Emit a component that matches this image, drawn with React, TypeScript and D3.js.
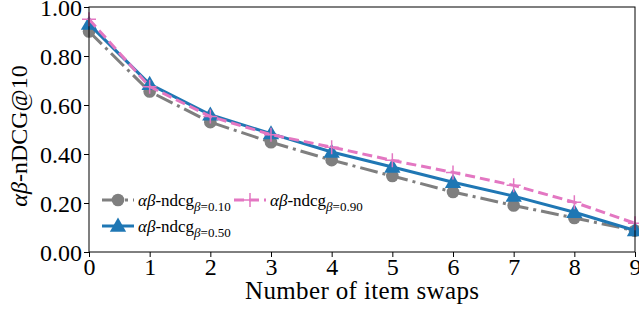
import React, { useRef, useEffect } from 'react';
import * as d3 from 'd3';

// item swaps on x axis
const swaps = [0, 1, 2, 3, 4, 5, 6, 7, 8, 9];
// alpha-beta nDCG@10 per beta
const beta010 = [0.9, 0.655, 0.53, 0.448, 0.375, 0.31, 0.245, 0.19, 0.139, 0.087];
const beta050 = [0.93, 0.685, 0.56, 0.483, 0.408, 0.347, 0.285, 0.228, 0.162, 0.088];
const beta090 = [0.95, 0.675, 0.553, 0.479, 0.428, 0.374, 0.325, 0.272, 0.203, 0.117];
const yTicks = [0, 0.2, 0.4, 0.6, 0.8, 1.0];

const series = [
  { label: '0.10', values: beta010, color: '#7f7f7f', dash: '18,5,3,5', marker: 'circle' },
  { label: '0.50', values: beta050, color: '#1f77b4', dash: null, marker: 'triangle' },
  { label: '0.90', values: beta090, color: '#e377c2', dash: '10,5', marker: 'plus' },
];

const FONT = '"Liberation Serif", "DejaVu Serif", serif';

const drawMarker = (g, type, x, y, color) => {
  if (type === 'circle') {
    g.append('circle').attr('cx', x).attr('cy', y).attr('r', 6.3).attr('fill', color);
  } else if (type === 'triangle') {
    g.append('path')
      .attr('d', d3.symbol().type(d3.symbolTriangle).size(115)())
      .attr('transform', `translate(${x},${y + 1})`)
      .attr('fill', color);
  } else {
    g.append('path')
      .attr('d', `M${x - 7},${y}H${x + 7}M${x},${y - 7}V${y + 7}`)
      .attr('stroke', color)
      .attr('stroke-width', 1.5)
      .attr('fill', 'none');
  }
};

const Chart = ({ width = 639, height = 318 }) => {
  const svgRef = useRef();

  useEffect(() => {
    d3.select(svgRef.current).selectAll('*').remove();

    const margin = { top: 7, right: 4, bottom: 66, left: 89 };
    const innerWidth = width - margin.left - margin.right;
    const innerHeight = height - margin.top - margin.bottom;

    const svg = d3.select(svgRef.current).attr('width', width).attr('height', height);
    const chart = svg.append('g').attr('transform', `translate(${margin.left},${margin.top})`);

    const xScale = d3.scaleLinear().domain([0, 9]).range([0, innerWidth]);
    const yScale = d3.scaleLinear().domain([0, 1]).range([innerHeight, 0]);

    // axes
    const xAxis = chart
      .append('g')
      .attr('transform', `translate(0,${innerHeight})`)
      .call(d3.axisBottom(xScale).tickValues(swaps).tickFormat(d3.format('d')).tickSize(5).tickPadding(1));
    const yAxis = chart
      .append('g')
      .call(d3.axisLeft(yScale).tickValues(yTicks).tickFormat(d3.format('.2f')).tickSize(5).tickPadding(2));

    [xAxis, yAxis].forEach(ax => {
      ax.select('.domain').remove();
      ax.selectAll('text').attr('font-family', FONT).attr('font-size', 24).attr('fill', '#000');
      ax.selectAll('line').attr('stroke', '#000');
    });
    yAxis.selectAll('text').attr('dy', '0.36em');
    xAxis.selectAll('text').attr('dy', '0.7em');

    // lines
    const line = d3
      .line()
      .x((d, i) => xScale(swaps[i]))
      .y(d => yScale(d));

    series.forEach(s => {
      const g = chart.append('g');
      g.append('path')
        .datum(s.values)
        .attr('d', line)
        .attr('fill', 'none')
        .attr('stroke', s.color)
        .attr('stroke-width', 3)
        .attr('stroke-dasharray', s.dash);
      s.values.forEach((v, i) => drawMarker(g, s.marker, xScale(swaps[i]), yScale(v), s.color));
    });

    // frame
    chart
      .append('rect')
      .attr('width', innerWidth)
      .attr('height', innerHeight)
      .attr('fill', 'none')
      .attr('stroke', '#000')
      .attr('stroke-width', 1);

    // legend
    const legendPos = [
      { x: 102, y: 200 },
      { x: 102, y: 226 },
      { x: 234, y: 200 },
    ];
    series.forEach((s, i) => {
      const p = legendPos[i];
      const row = svg.append('g');
      row
        .append('line')
        .attr('x1', p.x)
        .attr('x2', p.x + 32)
        .attr('y1', p.y)
        .attr('y2', p.y)
        .attr('stroke', s.color)
        .attr('stroke-width', 3)
        .attr('stroke-dasharray', s.dash);
      drawMarker(row, s.marker, p.x + 16, p.y, s.color);
      const t = row
        .append('text')
        .attr('x', p.x + 36)
        .attr('y', p.y + 6)
        .attr('font-family', FONT)
        .attr('font-size', 17);
      t.append('tspan').attr('font-style', 'italic').text('αβ');
      t.append('tspan').text('-ndcg');
      t.append('tspan').attr('font-size', 13).attr('dy', 5).attr('font-style', 'italic').text('β');
      t.append('tspan').attr('font-size', 13).text('=' + s.label);
    });

    // axis labels
    svg
      .append('text')
      .attr('x', margin.left + innerWidth / 2)
      .attr('y', 299)
      .attr('text-anchor', 'middle')
      .attr('font-family', FONT)
      .attr('font-size', 25)
      .attr('textLength', 234)
      .attr('lengthAdjust', 'spacing')
      .text('Number of item swaps');

    const yl = svg
      .append('text')
      .attr('transform', 'rotate(-90)')
      .attr('x', -136)
      .attr('y', 27)
      .attr('text-anchor', 'middle')
      .attr('font-family', FONT)
      .attr('font-size', 24);
    yl.append('tspan').attr('font-style', 'italic').text('αβ');
    yl.append('tspan').text('-nDCG@10');
  }, [width, height]);

  return <svg ref={svgRef} style={{ position: 'absolute', left: 0, top: 0 }}></svg>;
};

export default function App() {
  return <Chart />;
}
